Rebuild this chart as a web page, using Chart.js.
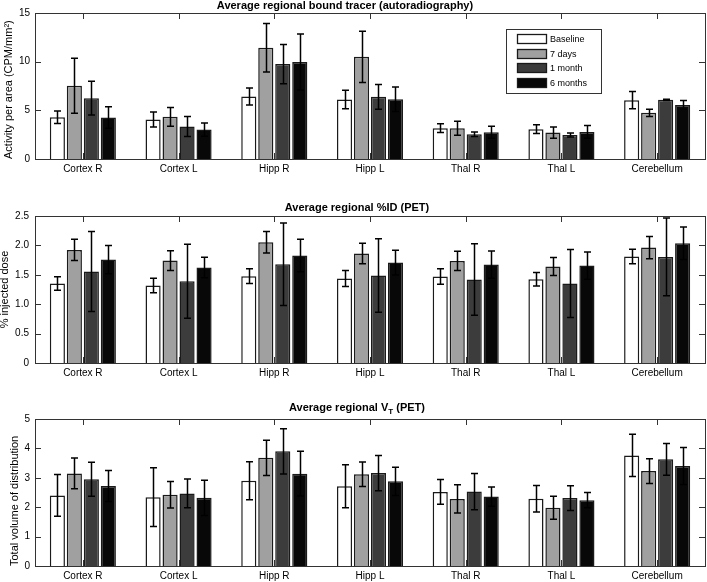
<!DOCTYPE html>
<html>
<head>
<meta charset="utf-8">
<script src="https://cdn.jsdelivr.net/npm/chart.js@4.4.1/dist/chart.umd.min.js"></script>
<style>
html,body{margin:0;padding:0;background:#fff;width:707px;height:582px;overflow:hidden;}
.panel{position:absolute;left:0;width:707px;}
canvas{display:block;}
</style>
</head>
<body>
<div class="panel" style="top:0px;height:195px"><canvas id="c1" width="707" height="195" style="width:707px;height:195px"></canvas></div>
<div class="panel" style="top:195px;height:195px"><canvas id="c2" width="707" height="195" style="width:707px;height:195px"></canvas></div>
<div class="panel" style="top:390px;height:192px"><canvas id="c3" width="707" height="192" style="width:707px;height:192px"></canvas></div>
<script>
// ---------- data ----------
const categories = ['Cortex R','Cortex L','Hipp R','Hipp L','Thal R','Thal L','Cerebellum'];
const seriesNames = ['Baseline','7 days','1 month','6 months'];

// Panel 1: Average regional bound tracer (autoradiography)
const autoBaseline    = [4.29, 4.05, 6.42, 6.11, 3.16, 3.06, 6.04];
const autoBaselineErr = [0.65, 0.77, 0.88, 0.95, 0.45, 0.45, 0.89];
const auto7d          = [7.52, 4.33, 11.43, 10.5, 3.16, 2.71, 4.74];
const auto7dErr       = [2.83, 0.96, 2.5, 2.63, 0.72, 0.58, 0.38];
const auto1m          = [6.25, 3.33, 9.75, 6.39, 2.54, 2.47, 6.08];
const auto1mErr       = [1.73, 1.03, 2.02, 1.27, 0.24, 0.21, 0.07];
const auto6m          = [4.26, 3.02, 9.96, 6.14, 2.75, 2.78, 5.56];
const auto6mErr       = [1.1, 0.69, 2.88, 1.27, 0.62, 0.65, 0.45];

// Panel 2: Average regional %ID (PET)
const idBaseline    = [1.352, 1.318, 1.476, 1.437, 1.471, 1.425, 1.81];
const idBaselineErr = [0.116, 0.125, 0.125, 0.136, 0.13, 0.116, 0.124];
const id7d          = [1.923, 1.742, 2.053, 1.861, 1.736, 1.64, 1.963];
const id7dErr       = [0.18, 0.167, 0.183, 0.175, 0.164, 0.153, 0.19];
const id1m          = [1.555, 1.391, 1.68, 1.488, 1.42, 1.352, 1.804];
const id1mErr       = [0.68, 0.63, 0.70, 0.625, 0.608, 0.58, 0.66];
const id6m          = [1.759, 1.623, 1.827, 1.708, 1.674, 1.657, 2.036];
const id6mErr       = [0.24, 0.175, 0.277, 0.21, 0.232, 0.232, 0.277];

// Panel 3: Average regional VT (PET)
const vtBaseline    = [2.40, 2.34, 2.90, 2.71, 2.52, 2.29, 3.76];
const vtBaselineErr = [0.71, 1.0, 0.65, 0.73, 0.42, 0.45, 0.72];
const vt7d          = [3.15, 2.42, 3.68, 3.12, 2.28, 1.98, 3.23];
const vt7dErr       = [0.52, 0.45, 0.6, 0.42, 0.48, 0.39, 0.42];
const vt1m          = [2.95, 2.47, 3.9, 3.16, 2.53, 2.31, 3.63];
const vt1mErr       = [0.58, 0.49, 0.77, 0.6, 0.62, 0.42, 0.54];
const vt6m          = [2.72, 2.32, 3.14, 2.88, 2.36, 2.24, 3.4];
const vt6mErr       = [0.53, 0.6, 0.76, 0.48, 0.33, 0.26, 0.63];

const yTicks1 = {min: 0, max: 15, step: 5};
const yTicks2 = {min: 0, max: 2.5, step: 0.5};
const yTicks3 = {min: 0, max: 5, step: 1};

// ---------- styles ----------
const FONT = "'Liberation Sans', Arial, Helvetica, sans-serif";
const fills = ['#ffffff', '#a0a0a0', '#3c3c3c', '#080808'];
Chart.defaults.font.family = FONT;
Chart.defaults.color = '#000';

// ---------- plugins ----------
const decor = {
  id: 'decor',
  afterDatasetsDraw(chart, args, o) {
    const ctx = chart.ctx;
    const ys = chart.scales.y, xs = chart.scales.x;
    ctx.save();
    // error bars
    ctx.strokeStyle = '#000';
    ctx.lineWidth = 1.5;
    chart.data.datasets.forEach((ds, i) => {
      const meta = chart.getDatasetMeta(i);
      meta.data.forEach((el, j) => {
        const v = ds.data[j], e = ds.errors[j];
        const x = Math.round(el.x) + 0.5;
        const yt = ys.getPixelForValue(v + e), yb = ys.getPixelForValue(v - e);
        ctx.beginPath();
        ctx.moveTo(x, yt); ctx.lineTo(x, yb);
        ctx.moveTo(x - 3.5, yt); ctx.lineTo(x + 3.5, yt);
        ctx.moveTo(x - 3.5, yb); ctx.lineTo(x + 3.5, yb);
        ctx.stroke();
      });
    });
    // frame + inward ticks
    const a = chart.chartArea;
    ctx.strokeStyle = '#333';
    ctx.lineWidth = 1;
    ctx.strokeRect(Math.round(a.left) + 0.5, Math.round(a.top) + 0.5, Math.round(a.right - a.left), Math.round(a.bottom - a.top));
    const L = 6;
    ctx.beginPath();
    xs.ticks.forEach((t, i) => {
      const x = Math.round(xs.getPixelForTick(i)) + 0.5;
      ctx.moveTo(x, a.top); ctx.lineTo(x, a.top + L);
      ctx.moveTo(x, a.bottom); ctx.lineTo(x, a.bottom - L);
    });
    ys.ticks.forEach((t, i) => {
      const y = Math.round(ys.getPixelForTick(i)) + 0.5;
      ctx.moveTo(a.left, y); ctx.lineTo(a.left + L, y);
      ctx.moveTo(a.right, y); ctx.lineTo(a.right - L, y);
    });
    ctx.stroke();
    ctx.restore();
  },
  afterDraw(chart, args, o) {
    const ctx = chart.ctx;
    ctx.save();
    // title
    const parts = o.title;
    let total = 0;
    const widths = parts.map(p => {
      ctx.font = 'bold ' + (p.sub ? 8 : 11) + 'px ' + FONT;
      const w = ctx.measureText(p.t).width; total += w; return w;
    });
    let x = o.titleX - total / 2;
    ctx.textBaseline = 'middle';
    ctx.textAlign = 'left';
    ctx.fillStyle = '#000';
    parts.forEach((p, i) => {
      ctx.font = 'bold ' + (p.sub ? 8 : 11) + 'px ' + FONT;
      ctx.fillText(p.t, x, o.titleY + (p.sub ? 3.5 : 0));
      x += widths[i];
    });
    // legend
    if (o.legend) {
      const g = o.legend;
      ctx.fillStyle = '#fff';
      ctx.fillRect(g.x, g.y, g.w, g.h);
      ctx.strokeStyle = '#333';
      ctx.lineWidth = 1;
      ctx.strokeRect(g.x + 0.5, g.y + 0.5, g.w, g.h);
      chart.data.datasets.forEach((ds, i) => {
        const sy = g.y + g.first + Math.round(i * g.step);
        ctx.fillStyle = ds.backgroundColor;
        ctx.fillRect(g.x + g.swX, sy, g.swW, g.swH);
        ctx.strokeStyle = '#1a1a1a';
        ctx.lineWidth = 1.3;
        ctx.strokeRect(g.x + g.swX + 0.5, sy + 0.5, g.swW - 1, g.swH - 1);
        ctx.fillStyle = '#000';
        ctx.font = '9px ' + FONT;
        ctx.textBaseline = 'middle';
        ctx.fillText(ds.label, g.x + g.textX, sy + g.swH / 2 + 0.5);
      });
    }
    ctx.restore();
  }
};

function makeChart(id, vals, errs, yt, yTitle, yTitleAlign, yTitlePad, pad, title, titleX, titleY, legend, tickPad) {
  const datasets = seriesNames.map((n, i) => ({
    label: n,
    data: vals[i],
    errors: errs[i],
    backgroundColor: fills[i],
    borderColor: '#1a1a1a',
    borderWidth: 1.5,
    categoryPercentage: 0.71,
    barPercentage: 0.89
  }));
  return new Chart(document.getElementById(id), {
    type: 'bar',
    data: {labels: categories, datasets},
    plugins: [decor],
    options: {
      responsive: false,
      animation: false,
      devicePixelRatio: 1,
      layout: {padding: pad},
      plugins: {
        legend: {display: false},
        tooltip: {enabled: false},
        decor: {title, titleX, titleY, legend}
      },
      scales: {
        x: {
          grid: {display: false, drawTicks: false},
          border: {display: false},
          ticks: {padding: 4, font: {size: 10}, color: '#000', maxRotation: 0, autoSkip: false},
          afterFit(s) { s.height = 16; }
        },
        y: {
          min: yt.min, max: yt.max,
          grid: {display: false, drawTicks: false},
          border: {display: false},
          ticks: {stepSize: yt.step, padding: tickPad, font: {size: 10}, color: '#000'},
          title: {display: true, text: yTitle, align: yTitleAlign, font: {size: 11}, color: '#000', padding: {top: yTitlePad, bottom: 0}},
          afterFit(s) { s.width = 35; }
        }
      }
    }
  });
}

makeChart('c1',
  [autoBaseline, auto7d, auto1m, auto6m],
  [autoBaselineErr, auto7dErr, auto1mErr, auto6mErr],
  yTicks1, 'Activity per area (CPM/mm\u00B2)', 'start', 2.5,
  {top: 13, right: 2, bottom: 20, left: 0},
  [{t: 'Average regional bound tracer (autoradiography)'}], 345, 5.5,
  {x: 506, y: 29, w: 95, h: 64, swX: 11, swW: 30, swH: 10, first: 5, step: 14.7, textX: 44},
  5);

makeChart('c2',
  [idBaseline, id7d, id1m, id6m],
  [idBaselineErr, id7dErr, id1mErr, id6mErr],
  yTicks2, '% injected dose', 'center', -2,
  {top: 21, right: 2, bottom: 11, left: 0},
  [{t: 'Average regional %ID (PET)'}], 357, 12.5,
  null, 6);

makeChart('c3',
  [vtBaseline, vt7d, vt1m, vt6m],
  [vtBaselineErr, vt7dErr, vt1mErr, vt6mErr],
  yTicks3, 'Total volume of distribution', 'start', 8,
  {top: 29, right: 2, bottom: 0, left: 0},
  [{t: 'Average regional V'}, {t: 'T', sub: true}, {t: ' (PET)'}], 357, 18,
  null, 5);
</script>
</body>
</html>
